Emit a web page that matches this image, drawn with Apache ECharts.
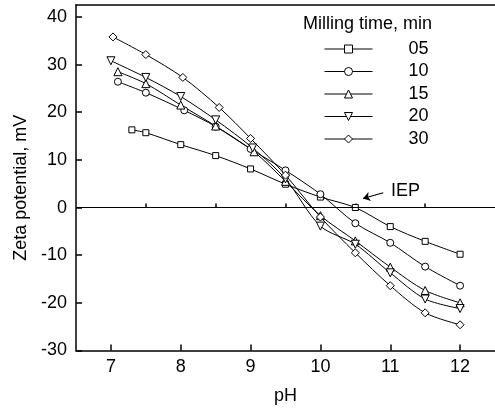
<!DOCTYPE html>
<html>
<head>
<meta charset="utf-8">
<script src="https://cdn.jsdelivr.net/npm/echarts@6/dist/echarts.min.js"></script>
<style>
  html, body { margin: 0; padding: 0; background: #fff; }
  #chart { width: 495px; height: 412px; }
</style>
</head>
<body>
<div id="chart"></div>
<script>
// values
var seriesNames = ['05', '10', '15', '20', '30'];

var ph05 = [7.3, 7.5, 8, 8.5, 9, 9.5, 10, 10.5, 11, 11.5, 12];
var zeta05 = [16.3, 15.7, 13.2, 10.9, 8.1, 4.9, 2.2, 0, -4.0, -7.1, -9.8];

var ph10 = [7.1, 7.5, 8.05, 8.5, 9, 9.5, 10, 10.5, 11, 11.5, 12];
var zeta10 = [26.4, 24.1, 20.4, 17.0, 12.3, 7.8, 2.8, -3.3, -7.4, -12.4, -16.4];

var ph15 = [7.1, 7.5, 8, 8.5, 9.05, 9.5, 10, 10.5, 11, 11.5, 12];
var zeta15 = [28.5, 26.0, 21.5, 17.1, 11.7, 5.5, -1.7, -7.0, -12.5, -17.4, -20.0];

var ph20 = [7.0, 7.5, 8, 8.5, 9.03, 9.5, 10, 10.5, 11, 11.5, 12];
var zeta20 = [30.8, 27.3, 23.3, 18.4, 12.5, 6.0, -3.9, -7.7, -13.7, -19.2, -21.2];

var ph30 = [7.03, 7.5, 8.03, 8.55, 9, 9.5, 10, 10.5, 11, 11.5, 12];
var zeta30 = [35.8, 32.1, 27.3, 21.0, 14.5, 6.8, -2.0, -9.5, -16.4, -22.1, -24.6];

var xMajorTicks = [7, 8, 9, 10, 11, 12];
var xMinorTicks = [7.5, 8.5, 9.5, 10.5, 11.5];
var yTicks = [-30, -20, -10, 0, 10, 20, 30, 40];

// IEP arrow, data coords
var iepFrom = [10.9, 3.1];
var iepTo = [10.61, 1.9];

var FONT = 'Arial, "Liberation Sans", sans-serif';

function zip(xs, ys) {
  return xs.map(function (x, i) { return [x, ys[i]]; });
}

var allX = [ph05, ph10, ph15, ph20, ph30];
var allY = [zeta05, zeta10, zeta15, zeta20, zeta30];
var symbols = ['rect', 'circle', 'triangle', 'path://M0,0 L10,0 L5,9 Z', 'diamond'];
var symbolSizes = [6, 7, 8, 8, 8];

var series = seriesNames.map(function (name, i) {
  return {
    name: name,
    type: 'line',
    data: zip(allX[i], allY[i]),
    smooth: 0.3,
    symbol: symbols[i],
    symbolSize: symbolSizes[i],
    showAllSymbol: true,
    lineStyle: { color: '#000', width: 1 },
    itemStyle: { color: '#fff', borderColor: '#000', borderWidth: 1 },
    emphasis: { disabled: true }
  };
});

// zero line + IEP arrow hang off the first series
series[0].markLine = {
  silent: true,
  animation: false,
  symbol: 'none',
  label: { show: false },
  lineStyle: { color: '#000', width: 1.2, type: 'solid' },
  data: [
    { yAxis: 0 },
    [
      {
        coord: iepFrom,
        symbol: 'none',
        label: {
          show: true,
          position: 'start',
          formatter: 'IEP',
          color: '#000',
          fontSize: 18,
          fontFamily: FONT,
          distance: 8
        }
      },
      { coord: iepTo, symbol: 'arrow', symbolSize: 7 }
    ]
  ]
};

var chart = echarts.init(document.getElementById('chart'), null, { renderer: 'canvas' });

var option = {
  animation: false,
  backgroundColor: '#fff',
  textStyle: { fontFamily: FONT, color: '#000' },
  grid: { left: 76, right: -4, top: 5, bottom: 61.5 },
  graphic: [
    {
      type: 'text',
      left: 303,
      top: 15,
      style: { text: 'Milling time, min', fontSize: 18, fontFamily: FONT, fill: '#000' }
    }
  ],
  legend: {
    orient: 'vertical',
    left: 319,
    top: 35,
    itemWidth: 48,
    itemHeight: 10,
    itemGap: 4.5,
    selectedMode: false,
    data: seriesNames,
    lineStyle: { width: 1 },
    itemStyle: { borderWidth: 1 },
    textStyle: { fontSize: 18, fontFamily: FONT, color: '#000', lineHeight: 18, padding: [0, 0, 0, 31] }
  },
  xAxis: [
    {
      type: 'value',
      min: 6.5,
      max: 12.5,
      name: 'pH',
      nameLocation: 'middle',
      nameGap: 37,
      nameTextStyle: { fontSize: 18, fontFamily: FONT, color: '#000' },
      axisLine: { show: true, onZero: false, lineStyle: { color: '#000', width: 1.5 } },
      axisTick: { show: true, inside: true, length: 6, customValues: xMajorTicks, lineStyle: { color: '#000', width: 1.5 } },
      axisLabel: { customValues: xMajorTicks, fontSize: 18, fontFamily: FONT, color: '#000', margin: 8 },
      splitLine: { show: false }
    },
    {
      type: 'value',
      min: 6.5,
      max: 12.5,
      position: 'bottom',
      axisLine: { show: false },
      axisTick: { show: true, inside: true, length: 4, customValues: xMinorTicks, lineStyle: { color: '#000', width: 1.5 } },
      axisLabel: { show: false },
      splitLine: { show: false }
    },
    {
      type: 'value',
      min: 6.5,
      max: 12.5,
      position: 'top',
      axisLine: { show: true, lineStyle: { color: '#000', width: 1.5 } },
      axisTick: { show: false },
      axisLabel: { show: false },
      splitLine: { show: false }
    }
  ],
  yAxis: {
    type: 'value',
    min: -30,
    max: 42.5,
    name: 'Zeta potential, mV',
    nameLocation: 'middle',
    nameGap: 41,
    nameTextStyle: { fontSize: 18, fontFamily: FONT, color: '#000', padding: [0, 20, 0, 0] },
    axisLine: { show: true, onZero: false, lineStyle: { color: '#000', width: 1.5 } },
    axisTick: { show: true, inside: true, length: 6, customValues: yTicks, lineStyle: { color: '#000', width: 1.5 } },
    axisLabel: { customValues: yTicks, fontSize: 18, fontFamily: FONT, color: '#000', margin: 9 },
    splitLine: { show: false }
  },
  series: series
};

chart.setOption(option);
</script>
</body>
</html>
